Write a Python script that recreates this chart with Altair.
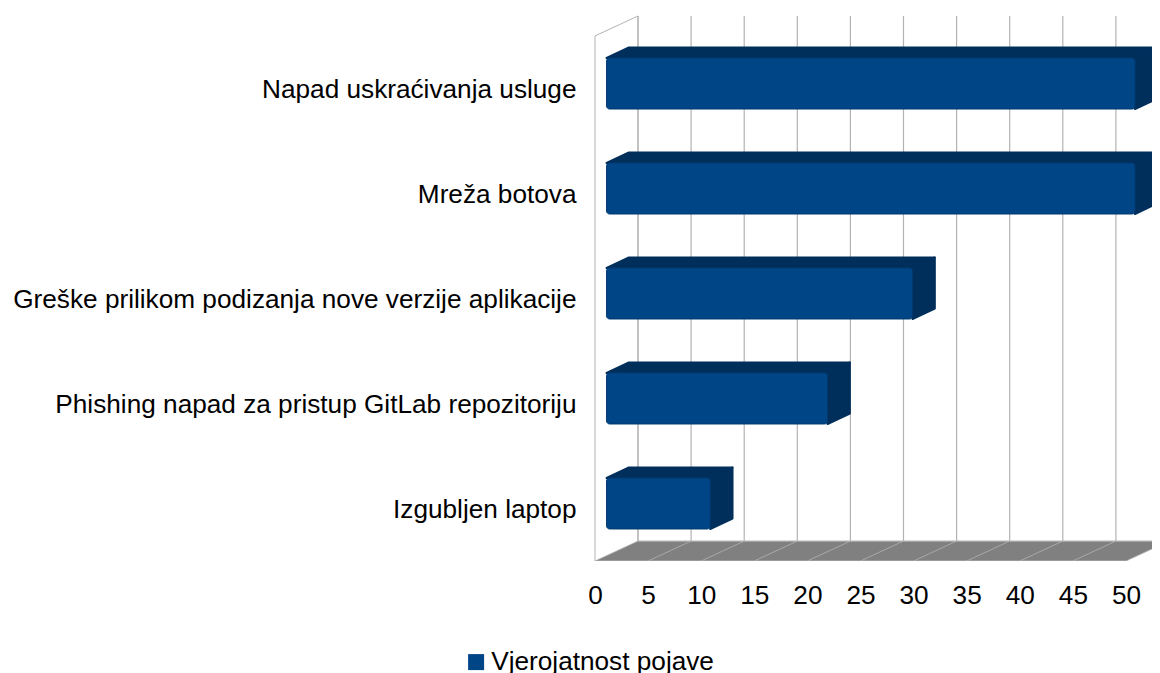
import altair as alt
import pandas as pd

categories = ["Napad uskraćivanja usluge", "Mreža botova",
              "Greške prilikom podizanja nove verzije aplikacije",
              "Phishing napad za pristup GitLab repozitoriju", "Izgubljen laptop"]
values = [50.85, 50.85, 29.9, 21.9, 10.85]
ticks = list(range(0, 55, 5))
series_name = "Vjerojatnost pojave"

FONT = "Liberation Sans"
FS = 26.2
FRONT = "#004586"
DARK = "#002f5c"
GRID = "#b3b3b3"
FLOOR = "#808080"

# scene geometry, in data units (value units / category ranks)
X_MAX = 52.45
Y_TOP, Y_BOTTOM = -0.643, 4.548
WALL_DX, WALL_DY = 4.05, 0.19
BAR_START = 1.09
BAR_HALF = 0.243
BAR_DX, BAR_DY = 2.1, 0.1

ranks = list(range(len(categories)))
x_scale = alt.Scale(domain=[0, X_MAX], nice=False, zero=False)
y_scale = alt.Scale(domain=[Y_BOTTOM, Y_TOP], nice=False, zero=False)
names_js = "[" + ",".join('"%s"' % c for c in categories) + "]"

X = alt.X("x:Q", scale=x_scale, title=None,
          axis=alt.Axis(values=ticks, grid=False, domain=False, ticks=False,
                        labelPadding=21, labelFont=FONT, labelFontSize=FS, labelColor="#000",
                        labelFlush=False, labelOverlap=False, format="d"))
Y = alt.Y("y:Q", scale=y_scale, title=None,
          axis=alt.Axis(values=ranks, grid=False, domain=False, ticks=False,
                        labelPadding=19, labelFont=FONT, labelFontSize=FS, labelColor="#000",
                        labelLimit=700, labelOverlap=False, labelFlush=False, labelOffset=6,
                        labelExpr=names_js + "[datum.value]"))

# back wall gridlines
grid_df = pd.DataFrame({"x": [t + WALL_DX for t in ticks],
                        "y": [Y_TOP] * len(ticks),
                        "y2": [Y_BOTTOM - WALL_DY] * len(ticks)})
grid = alt.Chart(grid_df).mark_rule(color=GRID, strokeWidth=1.2, clip=True).encode(
    x=X, y=Y, y2="y2:Q")

# left wall outline
wall_df = pd.DataFrame({"x": [0, 0, WALL_DX], "x2": [0, WALL_DX, WALL_DX],
                        "y": [Y_BOTTOM, Y_TOP + WALL_DY, Y_TOP],
                        "y2": [Y_TOP + WALL_DY, Y_TOP, Y_BOTTOM - WALL_DY]})
wall = alt.Chart(wall_df).mark_rule(color=GRID, strokeWidth=1).encode(
    x=X, x2="x2:Q", y=Y, y2="y2:Q")

# floor
floor_df = pd.DataFrame({"y": [Y_BOTTOM, Y_BOTTOM - WALL_DY],
                         "x": [0, WALL_DX], "x2": [ticks[-1], ticks[-1] + WALL_DX]})
floor = alt.Chart(floor_df).mark_area(color=FLOOR, orient="horizontal", clip=True).encode(
    x=X, x2="x2:Q", y=Y)
floor_lines_df = pd.DataFrame({"x": ticks, "x2": [t + WALL_DX for t in ticks],
                               "y": [Y_BOTTOM] * len(ticks),
                               "y2": [Y_BOTTOM - WALL_DY] * len(ticks)})
floor_lines = alt.Chart(floor_lines_df).mark_rule(color=GRID, strokeWidth=0.8, clip=True).encode(
    x=X, x2="x2:Q", y=Y, y2="y2:Q")
floor_edges_df = pd.DataFrame({"x": [0, WALL_DX], "x2": [ticks[-1], ticks[-1] + WALL_DX],
                               "y": [Y_BOTTOM, Y_BOTTOM - WALL_DY]})
floor_edges = alt.Chart(floor_edges_df).mark_rule(color=GRID, strokeWidth=1.2, clip=True).encode(
    x=X, x2="x2:Q", y=Y)

# bars: top face, side face, front face
top_rows, side_rows, front_rows = [], [], []
for r, v in zip(ranks, values):
    top_rows += [{"c": r, "y": r - BAR_HALF, "x": BAR_START, "x2": v},
                 {"c": r, "y": r - BAR_HALF - BAR_DY, "x": BAR_START + BAR_DX, "x2": v + BAR_DX}]
    side_rows += [{"c": r, "x": v, "y": r - BAR_HALF, "y2": r + BAR_HALF},
                  {"c": r, "x": v + BAR_DX, "y": r - BAR_HALF - BAR_DY, "y2": r + BAR_HALF - BAR_DY}]
    front_rows.append({"x": BAR_START, "x2": v, "y": r - BAR_HALF, "y2": r + BAR_HALF, "s": series_name})

top = alt.Chart(pd.DataFrame(top_rows)).mark_area(
    color=DARK, orient="horizontal", stroke=DARK, strokeWidth=2, strokeJoin="round", clip=True).encode(
    x=X, x2="x2:Q", y=Y, detail="c:N")
side = alt.Chart(pd.DataFrame(side_rows)).mark_area(
    color=DARK, orient="vertical", stroke=DARK, strokeWidth=2, strokeJoin="round", clip=True).encode(
    x=X, y=Y, y2="y2:Q", detail="c:N")
front = alt.Chart(pd.DataFrame(front_rows)).mark_rect(
    cornerRadius=3, stroke="#003a70", strokeWidth=1).encode(
    x=X, x2="x2:Q", y=Y, y2="y2:Q",
    color=alt.Color("s:N", scale=alt.Scale(domain=[series_name], range=[FRONT]),
                    legend=alt.Legend(title=None, orient="none", legendX=-132, legendY=633,
                                      symbolType="square", symbolSize=256, symbolStrokeWidth=0,
                                      labelFont=FONT, labelFontSize=FS, labelColor="#000",
                                      labelLimit=400, labelOffset=2, padding=0)))

chart = alt.layer(grid, wall, floor, floor_lines, floor_edges, top, side, front).properties(
    width=557, height=545,
    autosize=alt.AutoSizeParams(type="none"),
    padding={"left": 587, "top": 8, "right": 0, "bottom": 112},
).configure_view(stroke=None)

chart.save("out.html", embed_options={"renderer": "svg", "actions": False})
